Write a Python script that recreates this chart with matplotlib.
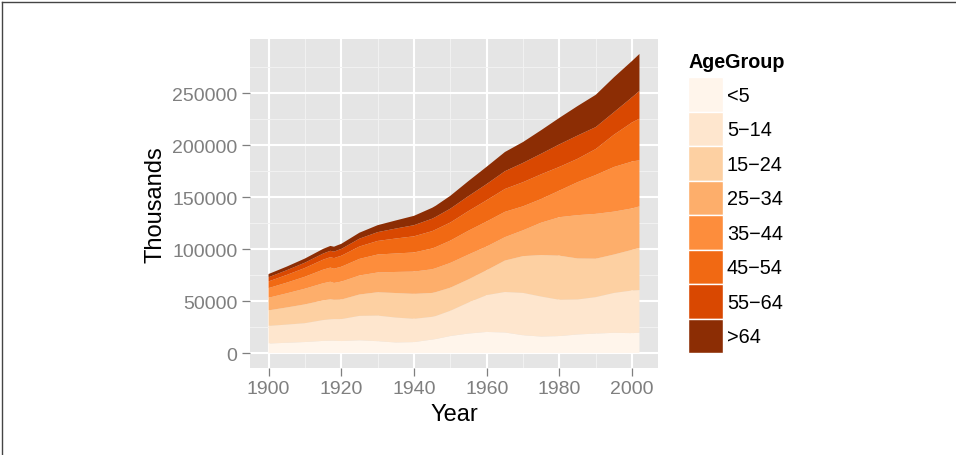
import matplotlib
matplotlib.use("Agg")
import matplotlib.pyplot as plt
from matplotlib.patches import Rectangle
from matplotlib.lines import Line2D
import numpy as np

plt.rcParams['font.family'] = ['Liberation Sans', 'DejaVu Sans']

years = [1900, 1905, 1910, 1915, 1917, 1918, 1919, 1920, 1925, 1930, 1935, 1940,
         1945, 1946, 1950, 1955, 1960, 1965, 1970, 1975, 1980, 1985, 1990, 1995,
         2000, 2002]
age_lt5 = [9181, 9900, 10631, 11700, 11900, 11900, 11700, 11573, 12300, 11444, 10200, 10541,
           13000, 13500, 16410, 18800, 20341, 19800, 17163, 15900, 16348, 17900, 18765, 19500,
           19176, 19609]
age_5_14 = [16966, 17500, 18135, 20100, 20600, 20800, 21000, 21110, 23500, 24631, 24000, 22431,
            21900, 22200, 24320, 29900, 35465, 39000, 40746, 38500, 34942, 33700, 35096, 38400,
            41078, 41025]
age_15_24 = [14951, 16500, 18113, 18900, 19300, 18600, 18700, 18821, 20600, 22487, 23600, 24033,
             23000, 23000, 22240, 22300, 24020, 30300, 35441, 40000, 42487, 39500, 37013, 37000,
             39184, 40688]
age_25_34 = [12161, 13600, 15103, 16500, 16900, 16200, 16800, 17274, 18300, 19040, 20300, 21446,
             22800, 23100, 23850, 23900, 22818, 22500, 24907, 31200, 37082, 41700, 43161, 41300,
             39892, 39928]
age_35_44 = [9273, 10300, 11506, 13100, 13600, 13700, 14000, 14293, 16000, 17280, 17800, 18422,
             20000, 20300, 21470, 23000, 24081, 24400, 23088, 22800, 25635, 31800, 37435, 43000,
             45149, 44394]
age_45_54 = [6437, 7400, 8430, 9600, 10000, 10200, 10400, 10575, 11900, 13066, 14400, 15555,
             16700, 16900, 17400, 18900, 20485, 22000, 23220, 23800, 22800, 22500, 25057, 31100,
             37678, 40084]
age_55_64 = [4026, 4550, 5116, 5900, 6150, 6250, 6400, 6587, 7550, 8477, 9600, 10694,
             12000, 12200, 13370, 14400, 15572, 17100, 18590, 19800, 21703, 22400, 21113, 21700,
             24275, 26699]
age_gt64 = [3099, 3500, 3986, 4500, 4700, 4750, 4850, 4929, 5750, 6706, 7800, 9031,
            10500, 10700, 12400, 14500, 16675, 18500, 20107, 22700, 25550, 28400, 31082, 33600,
            34992, 35602]

groups = ["<5", "5\u221214", "15\u221224", "25\u221234", "35\u221244", "45\u221254", "55\u221264", ">64"]
colors = ["#FFF5EB", "#FEE6CE", "#FDD0A2", "#FDAE6B", "#FD8D3C", "#F16913", "#D94801", "#8C2D04"]
series = [age_lt5, age_5_14, age_15_24, age_25_34, age_35_44, age_45_54, age_55_64, age_gt64]

W, H = 956, 456
fig = plt.figure(figsize=(W / 100, H / 100), dpi=100)
fig.patch.set_facecolor("white")

pl, pr, pt, pb = 250, 658, 40, 369
ax = fig.add_axes([pl / W, 1 - pb / H, (pr - pl) / W, (pb - pt) / H])
ax.set_facecolor("#E5E5E5")

ax.stackplot(years, *series, colors=colors, linewidth=0, zorder=3)

total = np.sum(np.array(series), axis=0)
xmin, xmax = min(years), max(years)
ax.set_xlim(xmin - 0.05 * (xmax - xmin), xmax + 0.05 * (xmax - xmin))
ax.set_ylim(-0.05 * total.max(), 1.05 * total.max())

xt = [1900, 1920, 1940, 1960, 1980, 2000]
yt = [0, 50000, 100000, 150000, 200000, 250000]
ax.set_xticks(xt)
ax.set_yticks(yt)
ax.set_xticklabels([str(v) for v in xt])
ax.set_yticklabels([str(v) for v in yt])
ax.set_xticks([1910, 1930, 1950, 1970, 1990], minor=True)
ax.set_yticks([25000, 75000, 125000, 175000, 225000, 275000], minor=True)
ax.grid(True, which="major", color="white", linewidth=1.5, zorder=1)
ax.grid(True, which="minor", color="#F2F2F2", linewidth=0.7, zorder=1)
ax.set_axisbelow(True)
for s in ax.spines.values():
    s.set_visible(False)
ax.tick_params(which="major", direction="out", length=5.5, width=0.9, color="#7F7F7F",
               labelcolor="#7F7F7F", labelsize=14, pad=3.5)
ax.tick_params(which="minor", length=0)

ax.set_xlabel("Year", fontsize=17, color="black", labelpad=4)
ax.set_ylabel("Thousands", fontsize=17, color="black", labelpad=4)

# overlay for legend and frame in pixel coordinates
ov = fig.add_axes([0, 0, 1, 1], zorder=5)
ov.set_xlim(0, W)
ov.set_ylim(H, 0)
ov.axis("off")
ov.patch.set_alpha(0)

ov.add_line(Line2D([2.5, W], [2.5, 2.5], color="#444444", linewidth=1.0))
ov.add_line(Line2D([2.5, 2.5], [2.5, H], color="#444444", linewidth=1.0))

ov.text(689, 62, "AgeGroup", fontsize=14.2, fontweight="bold", ha="left", va="center")
kx, kw, ky0, kh = 688, 35, 78, 34.5
for i, (g, c) in enumerate(zip(groups, colors)):
    y = ky0 + i * kh
    ov.add_patch(Rectangle((kx, y), kw, kh, facecolor=c, edgecolor="white", linewidth=1.0))
    ov.text(kx + kw + 4, y + kh / 2 + 1, g, fontsize=14.3, ha="left", va="center")

fig.savefig("out.png", dpi=100)
